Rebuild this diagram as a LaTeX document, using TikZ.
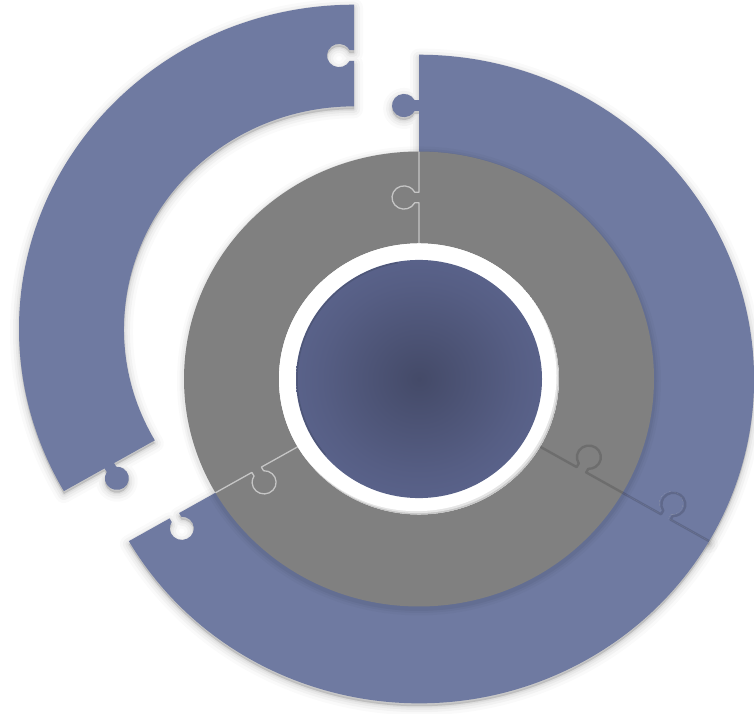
\documentclass[tikz,border=0pt]{standalone}
\definecolor{ringblue}{RGB}{111,122,161}
\definecolor{ringgray}{RGB}{128,128,128}
\definecolor{innerdark}{RGB}{68,74,104}
\definecolor{innermid}{RGB}{86,94,132}
\definecolor{inneredge}{RGB}{100,111,156}
\pgfdeclareradialshading{innerball}{\pgfpoint{0bp}{0bp}}{color(0bp)=(innerdark); color(20bp)=(innermid); color(42bp)=(inneredge); color(50bp)=(inneredge)}
% puzzle piece: #1 style, #2 r1, #3 r2, #4 start angle (hole), #5 end angle (knob)
\newcommand\piecepath[5]{%
\path[#1] (#4:#2) -- (#4:{(#2+#3)/2-5.5})
  -- ({((#2+#3)/2-5.5)*cos(#4)-4.33*sin(#4)},{((#2+#3)/2-5.5)*sin(#4)+4.33*cos(#4)})
  arc[start angle={#4+242.7}, end angle={#4-62.7}, radius=12]
  -- (#4:{(#2+#3)/2+5.5}) -- (#4:#3)
  arc[start angle=#4, end angle=#5, radius=#3]
  -- (#5:{(#2+#3)/2+5.5})
  -- ({((#2+#3)/2+5.5)*cos(#5)-4.33*sin(#5)},{((#2+#3)/2+5.5)*sin(#5)+4.33*cos(#5)})
  arc[start angle={#5-62.7}, end angle={#5+242.7}, radius=12]
  -- (#5:{(#2+#3)/2-5.5}) -- (#5:#2)
  arc[start angle=#5, end angle=#4, radius=#2] -- cycle;}
% seam with knob outline: #1 style, #2 r1, #3 r2, #4 angle
\newcommand\seampath[4]{%
\path[#1] (#4:#2) -- (#4:{(#2+#3)/2-5.5})
  -- ({((#2+#3)/2-5.5)*cos(#4)-4.33*sin(#4)},{((#2+#3)/2-5.5)*sin(#4)+4.33*cos(#4)})
  arc[start angle={#4+242.7}, end angle={#4-62.7}, radius=12]
  -- (#4:{(#2+#3)/2+5.5}) -- (#4:#3);}
\newcommand\pieceglow[4]{%
\foreach \w/\o in {18/0.02,12/0.03,7/0.04,3/0.05}{%
  \piecepath{glowlayer=\o, line width=\w, yshift=-3}{#1}{#2}{#3}{#4}}}
\tikzset{
  glowlayer/.style={fill=black, draw=black, line join=round, opacity=#1},
  bluepiece/.style={fill=ringblue},
  seamlight/.style={draw=white, opacity=0.55, line width=1.3, line join=round},
  seamdark/.style={draw=black, opacity=0.14, line width=2.4, line join=round},
}
\begin{document}
\begin{tikzpicture}[x=1pt,y=1pt]
\useasboundingbox (0,0) rectangle (754,713);
% ---------- outer blue ring, pieces in place ----------
\begin{scope}[shift={(419,334)}, yscale=0.968]
  \pieceglow{230}{335}{-30}{90}
  \pieceglow{230}{335}{210}{330}
\end{scope}
% ---------- exploded left piece ----------
\begin{scope}[shift={(354,384)}, yscale=0.968]
  \pieceglow{230}{335}{90}{210}
  \piecepath{bluepiece}{230}{335}{90}{210}
\end{scope}
\begin{scope}[shift={(419,334)}, yscale=0.968]
  \piecepath{bluepiece}{230}{335}{-30}{90}
  \piecepath{bluepiece}{230}{335}{210}{330}
  \seampath{seamdark}{235}{335}{-30}
  % ---------- gray ring ----------
  \foreach \w/\o in {14/0.02,9/0.03,5/0.04}{%
    \draw[black, opacity=\o, line width=\w, yshift=-2] (0,0) circle[radius=235];}
  \fill[ringgray, even odd rule] (0,0) circle[radius=235] (0,0) circle[radius=140];
  \seampath{seamlight}{140}{235}{90}
  \seampath{seamlight}{140}{235}{210}
  \seampath{seamdark}{140}{235}{-30}
  % ---------- white ring ----------
  \begin{scope}
    \clip (0,0) circle[radius=140];
    \fill[black!22] (0,0) circle[radius=140];
    \fill[black!10] (-1,1.5) circle[radius=140];
    \fill[white] (-2.5,3.5) circle[radius=140];
  \end{scope}
  % ---------- inner circle ----------
  \shade[shading=innerball] (0,0) circle[radius=123];
  \draw[black, opacity=0.12, line width=1.5] (100:122) arc[start angle=100, end angle=220, radius=122];
\end{scope}
\end{tikzpicture}
\end{document}
